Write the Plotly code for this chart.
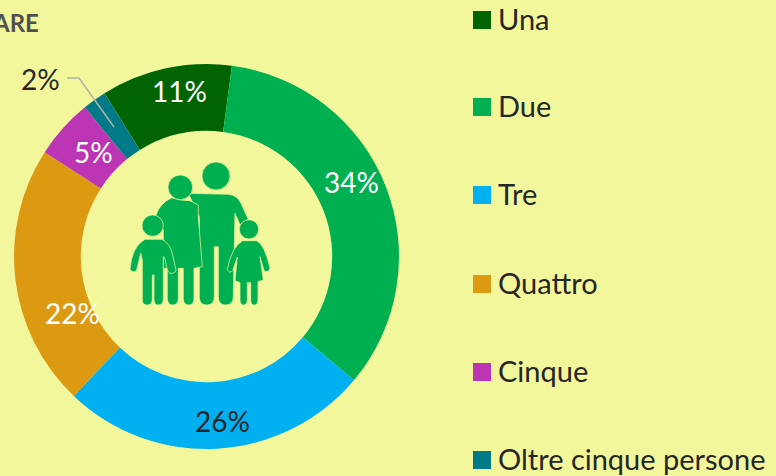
import plotly.graph_objects as go

categories = ["Una", "Due", "Tre", "Quattro", "Cinque", "Oltre cinque persone"]
values = [11, 34, 26, 22, 5, 2]
colors = ["#006400", "#00B050", "#00B0F0", "#DC9A12", "#BC35B5", "#007A87"]
label_colors = ["white", "white", "#262626", "white", "white", "#262626"]
label_x = [179, 351, 222, 72, 93, 40]
label_y = [91, 182, 421, 313, 152, 79]
legend_y = [20, 107, 195, 284, 372, 460]
BG = "#F3F79C"
FONT = "Lato"
W, H = 776, 476


def zoomed(path):
    """Icon outline drawn in 3x crop coordinates; convert to page pixels."""
    out, is_x = [], True
    for tok in path.replace(",", " ").split():
        if tok[0].isalpha():
            out.append(tok[0])
            tok = tok[1:]
            is_x = True
            if not tok:
                continue
        v = float(tok) / 3 + (120 if is_x else 150)
        out.append(f"{v:.1f}")
        is_x = not is_x
    s = ""
    for t in out:
        s += (t if t.isalpha() else t + " ")
    return s


def circle(cx, cy, r):
    return dict(type="circle", xref="x", yref="y", layer="above",
                x0=120 + (cx - r) / 3, x1=120 + (cx + r) / 3,
                y0=150 + (cy - r) / 3, y1=150 + (cy + r) / 3,
                fillcolor="#00B050", line=dict(color=BG, width=0.7))


def body(p):
    return dict(type="path", xref="x", yref="y", layer="above", path=zoomed(p),
                fillcolor="#00B050", line=dict(color=BG, width=0.7))


man = "M205,130 L325,133 Q350,135 362,158 L385,208 L360,225 L345,190 L340,440 Q340,465 317,465 Q295,465 295,440 L295,290 L283,290 L283,440 Q283,465 260,465 Q238,465 238,440 L238,200 Z"
woman = "M155,143 Q180,152 210,152 L235,165 L235,200 L247,350 L222,355 L222,445 Q222,465 206,465 Q190,465 190,445 L190,355 L175,355 L175,445 Q175,465 158,465 Q142,465 142,445 L142,355 L130,355 L130,240 L108,195 Q120,160 155,143 Z"
boy = "M75,268 L125,268 Q150,280 157,310 L168,360 Q165,372 150,370 Q140,365 135,325 L130,320 L130,450 Q128,465 115,465 Q103,465 102,450 L102,375 L97,375 L97,450 Q95,465 82,465 Q67,465 67,450 L67,330 L62,310 L50,360 Q40,372 30,358 Q35,290 75,268 Z"
girl = "M368,272 L410,272 Q435,285 450,355 Q445,370 432,362 L420,320 L430,390 L414,395 L414,450 Q413,465 403,465 Q392,465 392,450 L392,398 L382,398 L382,450 Q381,465 371,465 Q360,465 360,450 L360,398 L345,392 L352,322 L338,362 Q328,372 322,358 Q335,290 368,272 Z"

shapes = [
    body(man), circle(288, 78, 42),
    body(woman), circle(181, 112, 37),
    body(boy), circle(98, 227, 32),
    body(girl), circle(387, 238, 29),
    dict(type="path", xref="x", yref="y", layer="above", path="M67 78 L79 78 L114 127",
         line=dict(color="#B2B2A8", width=1.5)),
]
annotations = [
    dict(x=41, y=22, text="<b>ARE</b>", xanchor="right", yanchor="middle", showarrow=False,
         xref="x", yref="y", font=dict(family=FONT, size=24, color="#505050")),
]
for v, c, x, y in zip(values, label_colors, label_x, label_y):
    annotations.append(dict(x=x, y=y, text=f"{v}%", showarrow=False, xref="x", yref="y",
                            font=dict(family=FONT, size=28, color=c)))
for name, c, y in zip(categories, colors, legend_y):
    shapes.append(dict(type="rect", xref="x", yref="y", x0=473, x1=491, y0=y - 9, y1=y + 9,
                       fillcolor=c, line=dict(width=0)))
    annotations.append(dict(x=496, y=y - 2, text=name, xanchor="left", showarrow=False,
                            xref="x", yref="y",
                            font=dict(family=FONT, size=29, color="#262626")))

fig = go.Figure(go.Pie(
    labels=categories, values=values, sort=False, direction="clockwise", rotation=-32.0,
    hole=0.653, textinfo="none", showlegend=False,
    marker=dict(colors=colors, line=dict(width=0)),
    domain=dict(x=[14 / W, 399 / W], y=[1 - 449 / H, 1 - 64 / H]),
))
fig.update_layout(
    width=W, height=H, margin=dict(l=0, r=0, t=0, b=0), autosize=False,
    paper_bgcolor=BG, plot_bgcolor=BG, showlegend=False,
    xaxis=dict(visible=False, range=[0, W], domain=[0, 1], fixedrange=True),
    yaxis=dict(visible=False, range=[H, 0], domain=[0, 1], fixedrange=True),
    shapes=shapes, annotations=annotations,
)
fig.write_html("out.html", config={"displayModeBar": False},
               post_script="document.body.style.margin='0';document.body.style.background='%s';" % BG)
